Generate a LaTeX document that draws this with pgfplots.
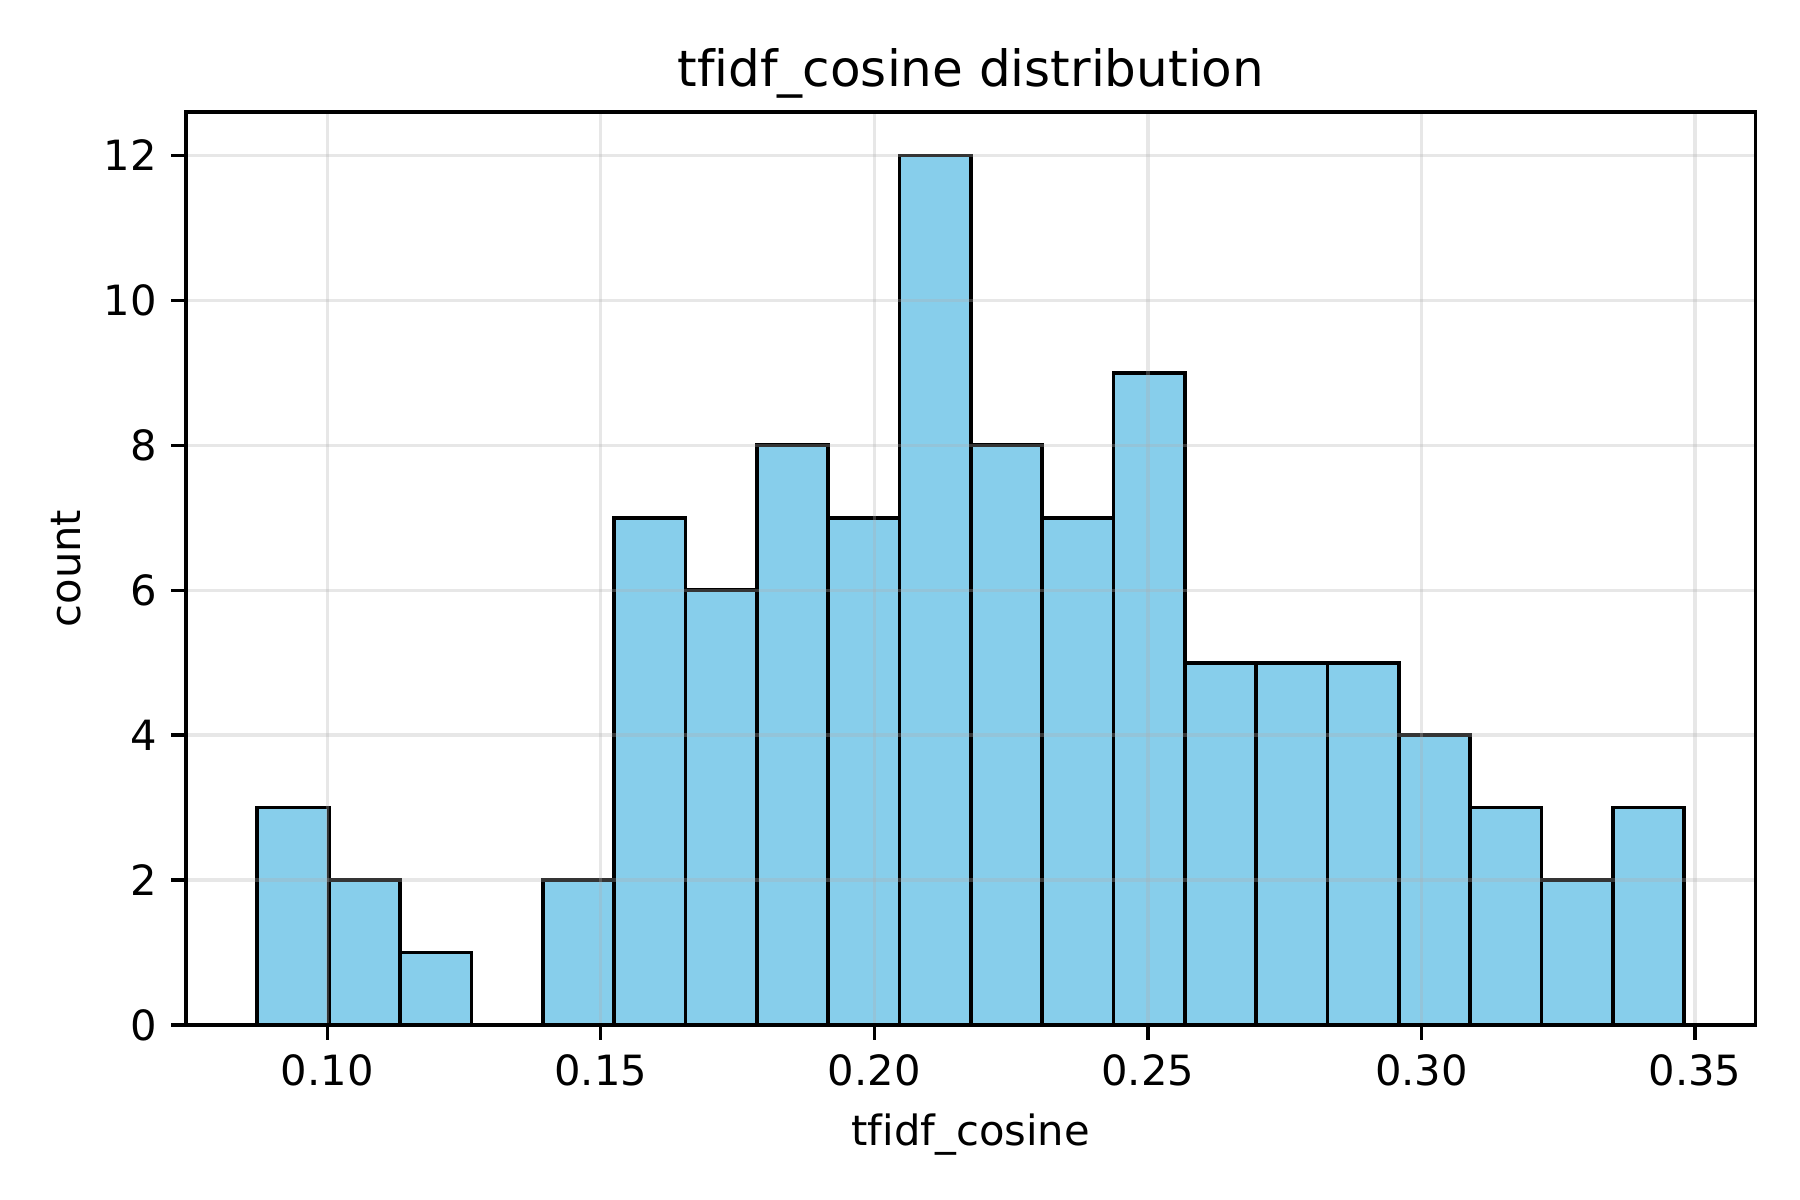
\documentclass[border=0pt]{standalone}
\usepackage{fontspec}
\setmainfont[Ligatures={NoCommon}]{DejaVu Sans}
\usepackage{pgfplots}
\pgfplotsset{compat=1.18}
\definecolor{skyblue}{RGB}{135,206,235}
\definecolor{gridc}{RGB}{176,176,176}
\begin{document}
\begin{tikzpicture}
\path[use as bounding box] (-44.64pt,-42pt) rectangle (387.36pt,246pt);
\begin{axis}[
  at={(0,0)}, anchor=south west,
  scale only axis, width=376.7pt, height=219.1pt,
  xmin=0.07417, xmax=0.36109, ymin=0, ymax=12.6,
  xtick={0.10,0.15,0.20,0.25,0.30,0.35},
  ytick={0,2,4,6,8,10,12},
  /pgf/number format/assume math mode=true,
  xticklabel style={/pgf/number format/.cd, fixed, fixed zerofill, precision=2},
  yticklabel style={/pgf/number format/.cd, fixed, precision=0},
  tick align=outside, major tick length=3.5pt,
  every tick/.style={black, line width=0.8pt},
  axis line style={line width=0.8pt},
  xtick pos=bottom, ytick pos=left,
  grid=major,
  major grid style={draw=gridc, opacity=0.3, line width=0.8pt},
  axis on top,
  every axis title/.style={at={(axis description cs:0.5,1)}, anchor=base, yshift=6.1pt, inner sep=0pt, font=\fontsize{12}{14}\selectfont},
  every axis x label/.style={at={([yshift=-29.04pt]axis description cs:0.5,0)}, anchor=base, inner sep=0pt},
  every axis y label/.style={at={([xshift=-25.4pt]axis description cs:0,0.5)}, rotate=90, anchor=base, inner sep=0pt},
  title={tfidf\_cosine distribution},
  xlabel={tfidf\_cosine},
  ylabel={count},
]
\addplot[ybar interval, fill=skyblue, draw=black, line width=0.9pt] coordinates {
(0.08721,3)(0.10025,2)(0.11329,1)(0.12634,0)(0.13938,2)(0.15242,7)(0.16546,6)(0.17850,8)(0.19155,7)(0.20459,12)(0.21763,8)(0.23067,7)(0.24371,9)(0.25675,5)(0.26980,5)(0.28284,5)(0.29588,4)(0.30892,3)(0.32196,2)(0.33501,3)(0.34805,3)
};
\end{axis}
\end{tikzpicture}
\end{document}
